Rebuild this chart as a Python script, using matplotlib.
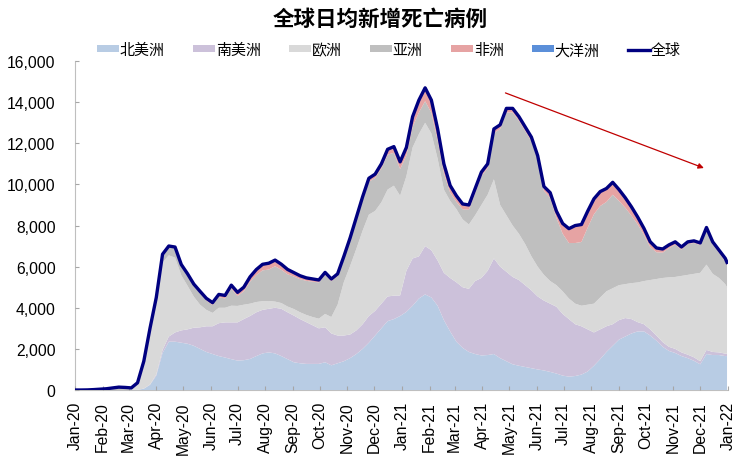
import matplotlib
matplotlib.use("Agg")
import matplotlib.pyplot as plt
import matplotlib.dates as mdates
import matplotlib.ticker as mticker
import numpy as np
import pandas as pd

plt.rcParams['font.family'] = ['Liberation Sans', 'Noto Sans CJK SC', 'DejaVu Sans']

# weekly points, Jan 2020 - Dec 2021 (daily deaths, 7-day average)
dates = pd.date_range('2020-01-01', '2021-12-29', freq='7D').append(pd.DatetimeIndex(['2021-12-31']))

north_america = [0, 0, 0, 0, 0, 0, 0, 0, 0, 2, 10, 60, 250, 700, 1800, 2350, 2350, 2300, 2250, 2150,
                 2000, 1850, 1750, 1650, 1580, 1500, 1430, 1450, 1510, 1650, 1780, 1830, 1780, 1650, 1500, 1350,
                 1300, 1270, 1270, 1270, 1350, 1200, 1300, 1400, 1550, 1750, 2000, 2300, 2650, 3000, 3350, 3450,
                 3600, 3800, 4100, 4450, 4650, 4500, 4100, 3400, 2850, 2350, 2050, 1850, 1750, 1680, 1700, 1750,
                 1550, 1400, 1250, 1180, 1120, 1060, 1000, 950, 880, 800, 700, 650, 680, 750, 900, 1180,
                 1500, 1850, 2150, 2450, 2600, 2750, 2850, 2850, 2650, 2400, 2100, 1900, 1800, 1650, 1550, 1420,
                 1250, 1750, 1700, 1700, 1650, 1650]
south_america = [0, 0, 0, 0, 0, 0, 0, 0, 0, 0, 0, 10, 20, 60, 150, 250, 450, 600, 700, 880,
                 1050, 1250, 1350, 1600, 1710, 1790, 1860, 2000, 2090, 2130, 2120, 2120, 2220, 2300, 2280, 2270,
                 2150, 2030, 1880, 1730, 1700, 1550, 1350, 1250, 1150, 1150, 1200, 1300, 1200, 1200, 1200, 1140,
                 1000, 2000, 2300, 2050, 2350, 2300, 2200, 2300, 2600, 2890, 2950, 3070, 3550, 3770, 4100, 4650,
                 4450, 4350, 4250, 4170, 3980, 3790, 3550, 3400, 3320, 3250, 3000, 2800, 2520, 2350, 2050, 1620,
                 1450, 1250, 1050, 950, 900, 700, 450, 350, 300, 250, 230, 200, 200, 180, 170, 170,
                 150, 200, 150, 130, 120, 120]
europe = [0, 0, 0, 0, 0, 0, 0, 0, 5, 30, 250, 1150, 2500, 3420, 4260, 3950, 3640, 2680, 2120, 1510,
          1100, 800, 650, 750, 710, 810, 800, 700, 600, 500, 420, 380, 300, 280, 280, 320,
          330, 350, 400, 470, 650, 800, 1500, 2600, 3330, 3970, 4550, 4930, 4860, 4930, 5200, 5350,
          4850, 4600, 5400, 5950, 6000, 5680, 4950, 4050, 3750, 3560, 3300, 3130, 3200, 3550, 3700, 3850,
          3000, 2750, 2500, 2250, 2000, 1650, 1450, 1250, 1100, 1050, 1100, 1000, 1000, 1000, 1200, 1400,
          1550, 1700, 1750, 1700, 1650, 1750, 1930, 2100, 2400, 2750, 3120, 3380, 3500, 3720, 3880, 4060,
          4300, 4150, 3800, 3620, 3380, 3230]
asia = [0, 0, 5, 20, 40, 60, 100, 140, 120, 70, 90, 170, 230, 300, 350, 400, 450, 450, 500, 520,
        550, 450, 380, 520, 450, 830, 480, 650, 1070, 1310, 1500, 1530, 1720, 1620, 1570, 1580,
        1610, 1660, 1720, 1760, 1900, 1740, 1390, 1140, 1250, 1400, 1500, 1600, 1600, 1650, 1700, 1600,
        1300, 1000, 1000, 1050, 1050, 1000, 900, 800, 400, 350, 490, 720, 1080, 1400, 1300, 2250,
        3700, 5000, 5500, 5500, 5500, 5600, 5200, 4080, 4040, 3270, 2800, 2700, 2950, 3100, 3750, 4350,
        4450, 4350, 4550, 4100, 3720, 3280, 2820, 2250, 1600, 1300, 1230, 1420, 1570, 1280, 1500, 1500,
        1350, 1690, 1430, 1220, 1100, 1050]
africa = [0, 0, 0, 0, 0, 0, 0, 0, 0, 0, 1, 5, 10, 20, 40, 50, 60, 70, 80, 90,
          100, 110, 120, 130, 150, 170, 180, 200, 230, 260, 280, 290, 280, 250, 220, 180,
          160, 140, 130, 120, 120, 110, 110, 110, 120, 130, 150, 170, 190, 220, 260, 300,
          350, 400, 500, 600, 650, 620, 550, 450, 350, 300, 260, 230, 220, 200, 200, 200,
          200, 200, 200, 200, 200, 200, 200, 220, 260, 330, 500, 700, 850, 850, 800, 750,
          700, 650, 600, 550, 480, 420, 350, 300, 250, 200, 170, 150, 130, 120, 100, 100,
          100, 110, 120, 130, 150, 150]
oceania = [0, 0, 0, 0, 0, 0, 0, 0, 0, 0, 0, 1, 2, 3, 4, 5, 5, 4, 3, 2,
           1, 1, 0, 0, 0, 0, 1, 2, 5, 10, 15, 18, 20, 18, 15, 12,
           8, 5, 3, 2, 1, 1, 0, 0, 0, 0, 0, 0, 0, 0, 0, 0,
           0, 0, 0, 0, 0, 0, 0, 0, 0, 0, 0, 0, 0, 0, 0, 0,
           0, 0, 0, 0, 0, 0, 0, 0, 0, 0, 0, 0, 0, 0, 0, 0,
           2, 3, 3, 5, 8, 10, 12, 12, 12, 10, 10, 10, 8, 8, 6, 5,
           5, 5, 5, 6, 6, 6]

labels = ['北美洲', '南美洲', '欧洲', '亚洲', '非洲', '大洋洲']
colors = ['#b8cce4', '#ccc1da', '#d9d9d9', '#bfbfbf', '#e6a3a3', '#5b8fd9']

series = np.vstack([north_america, south_america, europe, asia, africa, oceania])
world = series.sum(axis=0)

fig = plt.figure(figsize=(7.39, 4.6), dpi=100)
ax = fig.add_axes([0.1015, 0.15, 0.8835, 0.715])

ax.stackplot(dates, series, colors=colors, labels=labels, linewidth=0)
ax.plot(dates, world, color='#000080', lw=2.4, label='全球')

# trend arrow
ax.annotate('', xy=(pd.Timestamp('2021-12-08'), 10750), xytext=(pd.Timestamp('2021-04-24'), 14500),
            arrowprops=dict(arrowstyle='-|>', color='#c00000', lw=0.9, mutation_scale=8))

ax.set_xlim(pd.Timestamp('2020-01-01'), pd.Timestamp('2022-01-01'))
ax.set_ylim(0, 16000)
ax.yaxis.set_major_locator(mticker.MultipleLocator(2000))
ax.yaxis.set_major_formatter(mticker.FuncFormatter(lambda v, p: f'{int(v):,}'))
ax.xaxis.set_major_locator(mdates.MonthLocator())
ax.xaxis.set_major_formatter(mdates.DateFormatter('%b-%y'))
plt.setp(ax.get_xticklabels(), rotation=90)
ax.tick_params(axis='both', direction='in', length=3, color='#a6a6a6', labelsize=11.3, labelcolor='black')
ax.tick_params(axis='y', pad=14)
ax.tick_params(axis='x', pad=8)

for s in ['top', 'right']:
    ax.spines[s].set_visible(False)
for s in ['left', 'bottom']:
    ax.spines[s].set_color('#bfbfbf')
    ax.spines[s].set_zorder(0.5)

fig.text(0.514, 0.955, '全球日均新增死亡病例', ha='center', va='center', fontsize=15.5, fontweight='bold')

fig.legend(loc='center', bbox_to_anchor=(0.5264, 0.889), ncol=7, frameon=False, fontsize=10.8,
           handlelength=1.45, handleheight=0.35, handletextpad=0.05, columnspacing=1.9)

fig.savefig('out.png', dpi=100)
